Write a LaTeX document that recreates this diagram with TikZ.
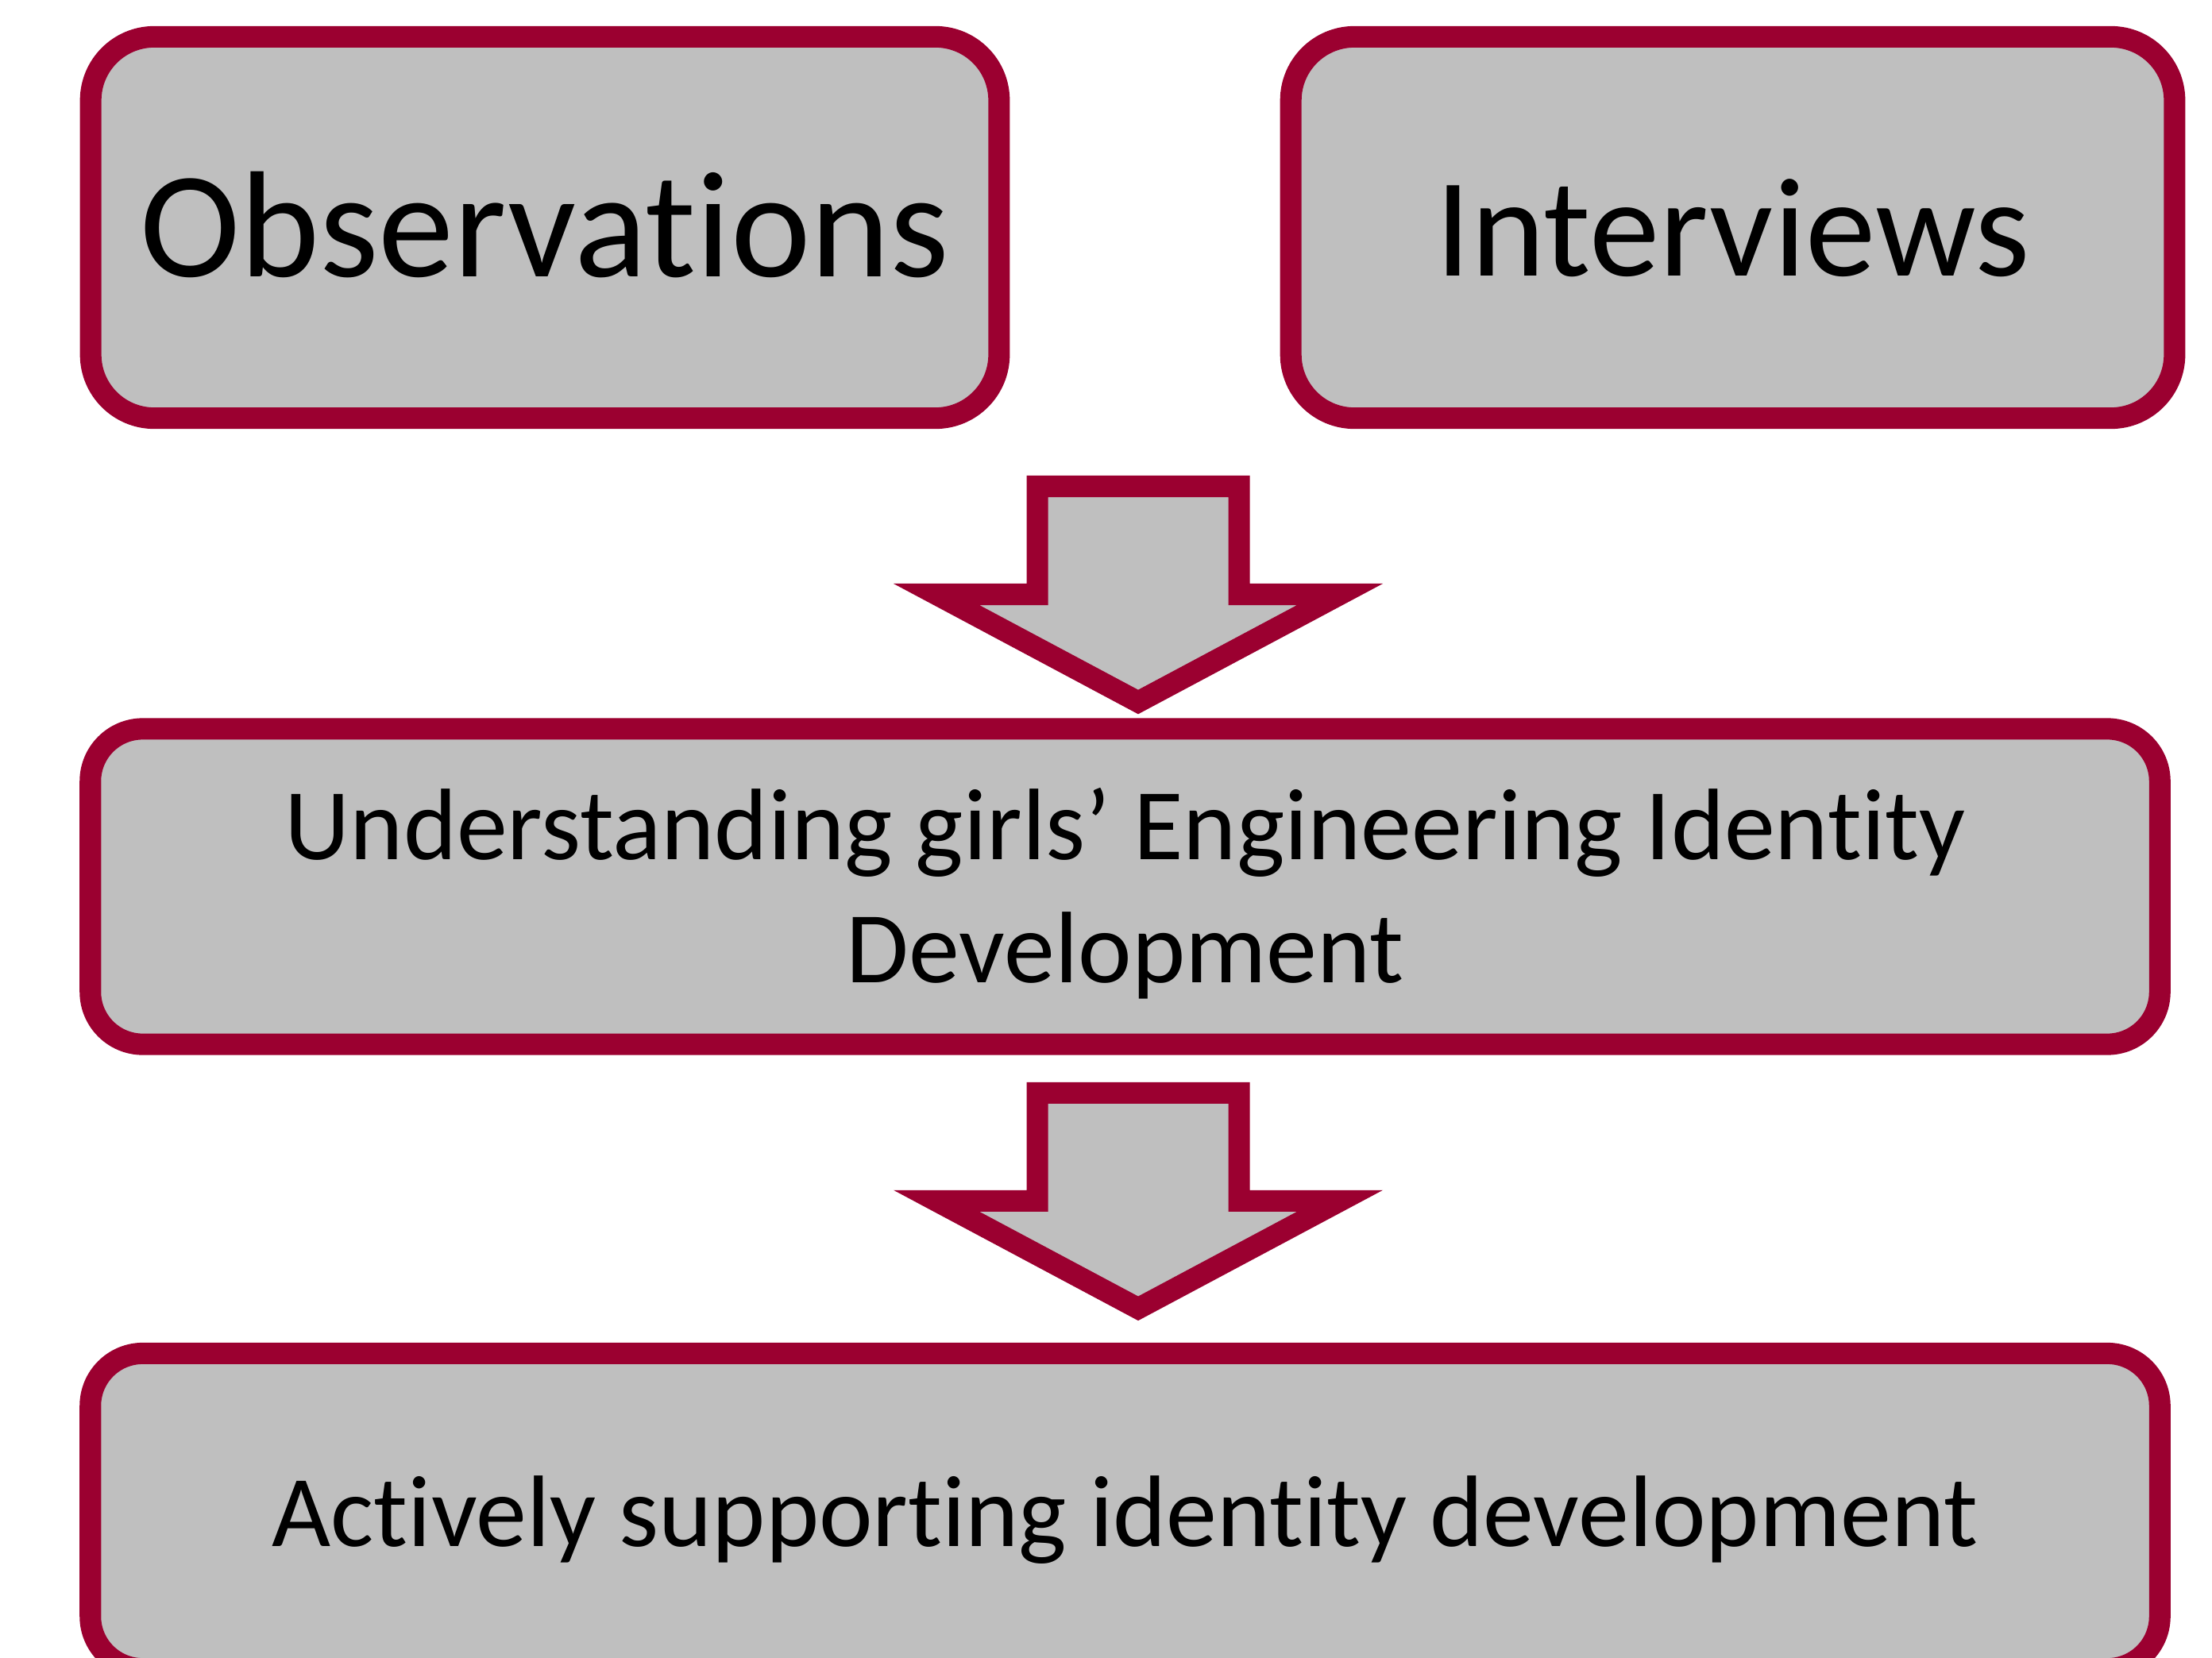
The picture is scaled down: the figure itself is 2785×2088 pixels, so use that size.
\documentclass[tikz,border=0pt]{standalone}
\usepackage{fontspec}
\setmainfont{Carlito}[Ligatures=NoCommon]
\definecolor{boxred}{HTML}{9B0030}
\definecolor{boxgray}{HTML}{BFBFBF}

\begin{document}
\begin{tikzpicture}[x=0.01cm, y=-0.01cm,
  box/.style={draw=boxred, fill=boxgray, line width=0.27cm, inner sep=0pt, align=center},
  bigtext/.style={font=\fontsize{54.2pt}{65pt}\selectfont},
  midtext/.style={font=\fontsize{36.4pt}{44pt}\selectfont},
  blockarrow/.style={draw=boxred, fill=boxgray, line width=0.27cm, line join=miter}]

\useasboundingbox (0,0) rectangle (2785,2088);

% Top boxes
\node[box, bigtext, minimum width=11.43cm, minimum height=4.8cm, rounded corners=0.8cm,
  text height=1.3cm, text depth=0.07cm] (obs) at (686,286.5) {Observations};
\node[box, font=\fontsize{50.4pt}{60pt}\selectfont, minimum width=11.12cm, minimum height=4.8cm,
  rounded corners=0.8cm, text height=1.3cm, text depth=0.08cm] (int) at (2181.5,286.5) {Interviews};

% Middle and bottom boxes
\node[box, midtext, minimum width=26.04cm, minimum height=3.97cm, rounded corners=0.66cm,
  text height=2.8cm, text depth=0.39cm] (und) at (1416.5,1116.5)
  {Understanding girls’ Engineering Identity\\Development};
\node[box, midtext, minimum width=26.04cm, minimum height=3.97cm, rounded corners=0.66cm,
  text height=1.0cm, text depth=0.12cm] (act) at (1416.5,1903)
  {Actively supporting identity development};

% Block arrows between the rows
\coordinate (a1) at (1433,612.5);
\coordinate (a2) at (1433,1376.3);
\foreach \a in {a1,a2}
  \draw[blockarrow, shift={(\a)}]
    (-127,0) -- (127,0) -- (127,136) -- (254,136) -- (0,271.5)
    -- (-254,136) -- (-127,136) -- cycle;

\end{tikzpicture}
\end{document}
